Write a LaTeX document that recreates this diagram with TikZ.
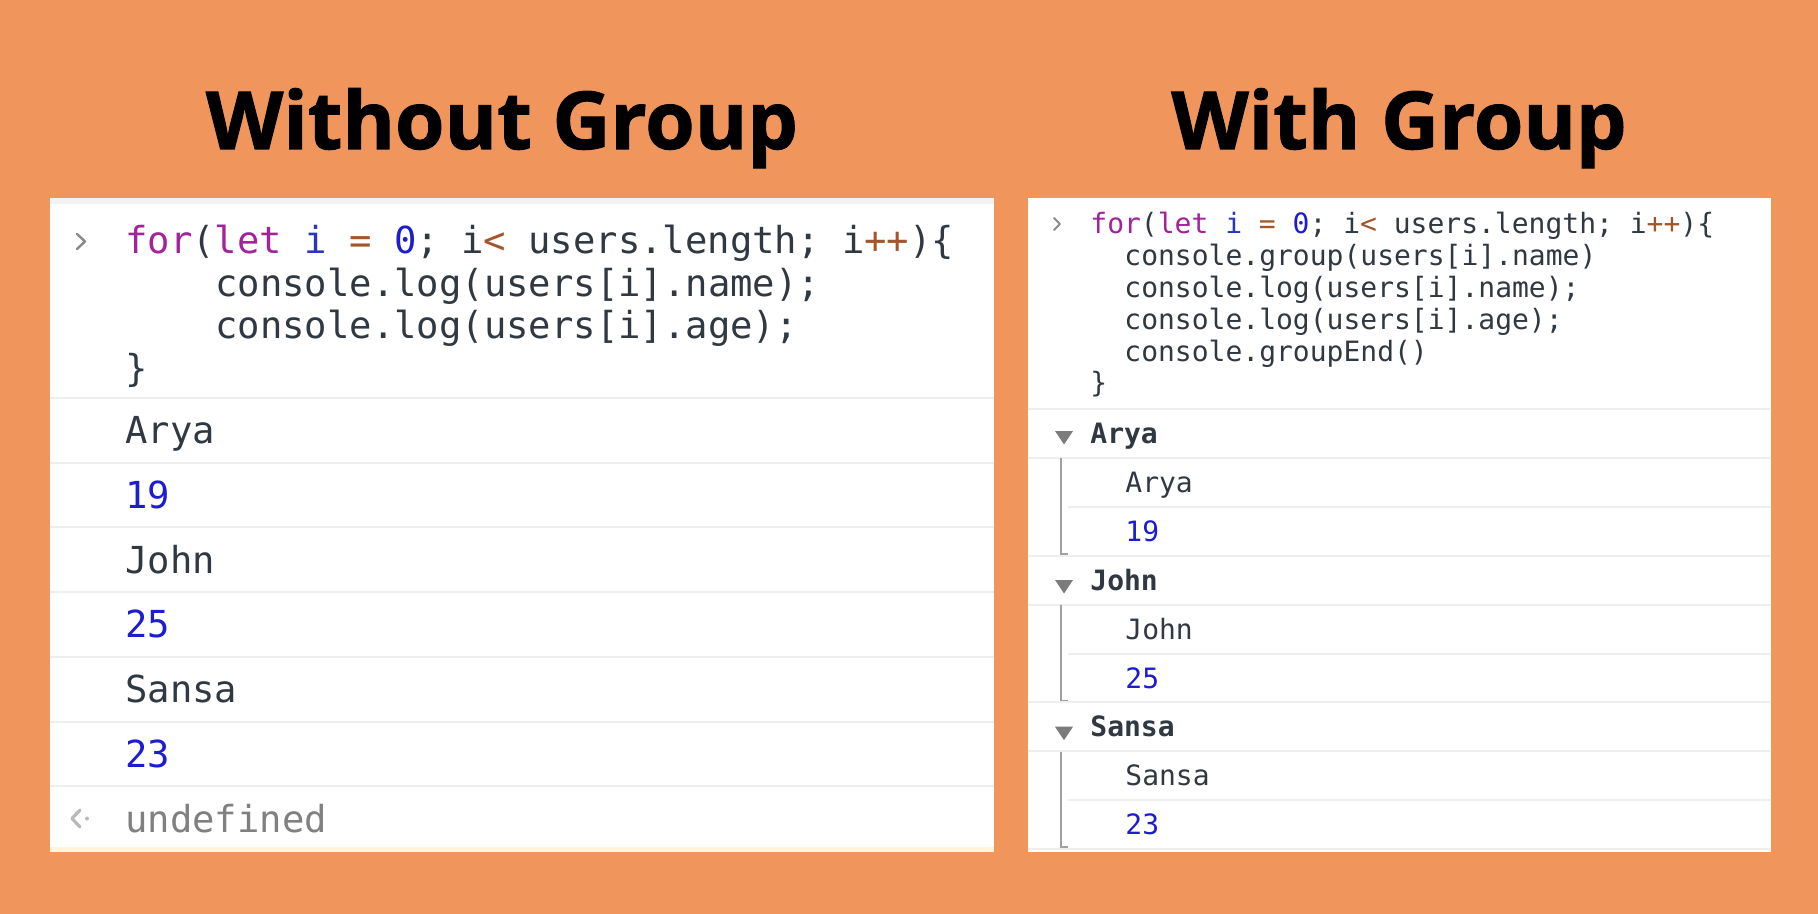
\documentclass[tikz,border=0pt]{standalone}
\usepackage{fontspec}
\setmonofont{DejaVu Sans Mono}
\newfontfamily\titlefont[BoldFeatures={FakeBold=1.3}]{Open Sans}
\usetikzlibrary{calc}

\definecolor{bgorange}{HTML}{F0965C}
\definecolor{codetext}{HTML}{303942}
\definecolor{kwcol}{HTML}{A3239B}
\definecolor{varcol}{HTML}{2A35C4}
\definecolor{numcol}{HTML}{1C1CD0}
\definecolor{opcol}{HTML}{A4552A}
\definecolor{sepgray}{HTML}{EEEEEE}
\definecolor{promptgray}{HTML}{8A8A8A}
\definecolor{undefgray}{HTML}{808080}
\definecolor{topstrip}{HTML}{F2F2F2}
\definecolor{warnstrip}{HTML}{FFF6D5}

\newcommand{\jskw}[1]{\textcolor{kwcol}{#1}}
\newcommand{\jsvar}[1]{\textcolor{varcol}{#1}}
\newcommand{\jsnum}[1]{\textcolor{numcol}{#1}}
\newcommand{\jsop}[1]{\textcolor{opcol}{#1}}

\tikzset{
    every node/.style={inner sep=0pt, anchor=base west, text=codetext},
    title/.style={font=\titlefont\bfseries\fontsize{40}{40}\selectfont, text=black, anchor=base},
    panel/.style={fill=white, anchor=north west, minimum height=327pt},
    bigcode/.style={font=\ttfamily\fontsize{18.6}{18.6}\selectfont},
    smallcode/.style={font=\ttfamily\fontsize{14}{14}\selectfont},
    groupcode/.style={smallcode, font=\ttfamily\bfseries\fontsize{14}{14}\selectfont},
    rowline/.style={draw=sepgray, line width=1pt},
    prompt/.style={draw=promptgray, line width=1.2pt, line cap=round, line join=round},
    groupline/.style={draw=promptgray!80, line width=0.8pt},
    grouptri/.style={fill=promptgray!90!black}
}

\begin{document}
\begin{tikzpicture}[x=0.5pt, y=-0.5pt]

        % background
        \fill[bgorange] (0,0) rectangle (1818,914);
        \useasboundingbox (0,0) rectangle (1818,914);

        % titles
        \node[title] (ltitle) at (502,149) {Without Group};
        \node[title] (rtitle) at (1399,149) {With Group};

        % panels
        \node[panel, minimum width=472pt] (lpanel) at (50,198) {};
        \node[panel, minimum width=371.5pt] (rpanel) at (1028,198) {};
        \fill[topstrip] (50,198) rectangle (994,204);
        \fill[warnstrip] (50,847) rectangle (994,852);

        % ---- left console ----
        \draw[prompt] (77,234) -- (85,241.5) -- (77,249);
        \node[bigcode] (lfor) at (125,254) {\jskw{for}(\jskw{let} \jsvar{i} \jsop{=} \jsnum{0}; i\jsop{<} users.length; i\jsop{++})\{};
        \node[bigcode] (llogname) at (215,297) {console.log(users[i].name);};
        \node[bigcode] (llogage) at (215,339) {console.log(users[i].age);};
        \node[bigcode] (lclose) at (125,381) {\}};

        \draw[rowline] (50,398) -- (994,398);
        \node[bigcode] (larya) at (125,443) {Arya};
        \draw[rowline] (50,462.7) -- (994,462.7);
        \node[bigcode, text=numcol] (lnineteen) at (125,508) {19};
        \draw[rowline] (50,527.4) -- (994,527.4);
        \node[bigcode] (ljohn) at (125,573) {John};
        \draw[rowline] (50,592.1) -- (994,592.1);
        \node[bigcode, text=numcol] (ltwentyfive) at (125,637) {25};
        \draw[rowline] (50,656.8) -- (994,656.8);
        \node[bigcode] (lsansa) at (125,702) {Sansa};
        \draw[rowline] (50,721.5) -- (994,721.5);
        \node[bigcode, text=numcol] (ltwentythree) at (125,767) {23};
        \draw[rowline] (50,786.2) -- (994,786.2);

        \draw[prompt, draw=promptgray!60, line width=1.6pt] (80,810) -- (72,818.5) -- (80,827);
        \fill[promptgray!60] (87,818.5) circle (2);
        \node[bigcode, text=undefgray] (lundef) at (125,832) {undefined};

        % ---- right console ----
        \draw[prompt, line width=1pt] (1054,218) -- (1060,224) -- (1054,230);
        \node[smallcode] (rfor) at (1090,234) {\jskw{for}(\jskw{let} \jsvar{i} \jsop{=} \jsnum{0}; i\jsop{<} users.length; i\jsop{++})\{};
        \node[smallcode] (rgroup) at (1124,266) {console.group(users[i].name)};
        \node[smallcode] (rlogname) at (1124,298) {console.log(users[i].name);};
        \node[smallcode] (rlogage) at (1124,329) {console.log(users[i].age);};
        \node[smallcode] (rgroupend) at (1124,361) {console.groupEnd()};
        \node[smallcode] (rclose) at (1090,393) {\}};

        \draw[rowline] (1028,409) -- (1770,409);
        \fill[grouptri] (1055,431) -- (1073,431) -- (1064,444.5) -- cycle;
        \node[groupcode] (garya) at (1090,443.5) {Arya};
        \draw[rowline] (1028,457.9) -- (1770,457.9);
        \node[smallcode] (rarya) at (1125,492.4) {Arya};
        \draw[rowline] (1068,506.8) -- (1770,506.8);
        \node[smallcode, text=numcol] (rnineteen) at (1125,541.3) {19};
        \draw[groupline] (1061,458) |- (1068,554);
        \draw[rowline] (1028,555.7) -- (1770,555.7);

        \fill[grouptri] (1055,580) -- (1073,580) -- (1064,593.5) -- cycle;
        \node[groupcode] (gjohn) at (1090,590.2) {John};
        \draw[rowline] (1028,604.6) -- (1770,604.6);
        \node[smallcode] (rjohn) at (1125,639.1) {John};
        \draw[rowline] (1068,653.5) -- (1770,653.5);
        \node[smallcode, text=numcol] (rtwentyfive) at (1125,688) {25};
        \draw[groupline] (1061,605) |- (1068,701);
        \draw[rowline] (1028,702.4) -- (1770,702.4);

        \fill[grouptri] (1055,726.7) -- (1073,726.7) -- (1064,740.2) -- cycle;
        \node[groupcode] (gsansa) at (1090,736.9) {Sansa};
        \draw[rowline] (1028,751.3) -- (1770,751.3);
        \node[smallcode] (rsansa) at (1125,785.8) {Sansa};
        \draw[rowline] (1068,800.2) -- (1770,800.2);
        \node[smallcode, text=numcol] (rtwentythree) at (1125,834.7) {23};
        \draw[groupline] (1061,752) |- (1068,847);
        \draw[rowline] (1028,849.1) -- (1770,849.1);

\end{tikzpicture}
\end{document}
